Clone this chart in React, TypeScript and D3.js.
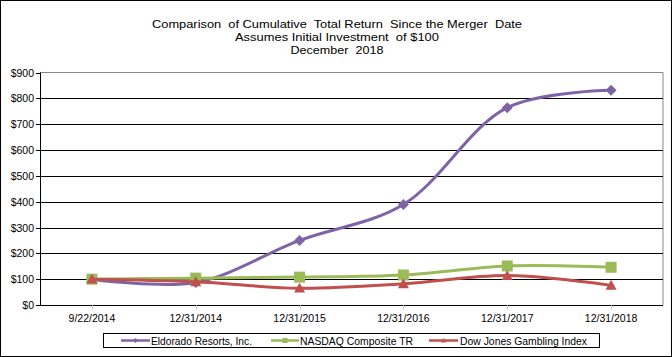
import React from "react";
import * as d3 from "d3";

const categories = ["9/22/2014", "12/31/2014", "12/31/2015", "12/31/2016", "12/31/2017", "12/31/2018"];
const eldorado = [100, 87, 250, 389, 764, 831];
const nasdaq = [100, 104, 108, 116, 151, 146];
const dowJones = [100, 90, 65, 82, 114, 76];
const yTicks = [0, 100, 200, 300, 400, 500, 600, 700, 800, 900];
const titleLines = [
  "Comparison  of Cumulative  Total Return  Since the Merger  Date",
  "Assumes Initial Investment  of $100",
  "December  2018",
];
const seriesNames = ["Eldorado Resorts, Inc.", "NASDAQ Composite TR", "Dow Jones Gambling Index"];

const W = 672, H = 357;
const left = 40, right = 663, top = 72.5, bottom = 305;
const FONT = "'Liberation Sans', Arial, sans-serif";

export default function App() {
  const x = d3.scaleBand<string>().domain(categories).range([left, right]);
  const y = d3.scaleLinear().domain([0, 900]).range([bottom, top]);
  const cx = (c: string) => (x(c) as number) + x.bandwidth() / 2;
  const line = d3.line<number>()
    .x((_, i) => cx(categories[i]))
    .y((d) => y(d))
    .curve(d3.curveCatmullRom.alpha(0.5));

  const series = [
    { name: seriesNames[0], data: eldorado, color: "#7E64A6", marker: "diamond" },
    { name: seriesNames[1], data: nasdaq, color: "#9BBB59", marker: "square" },
    { name: seriesNames[2], data: dowJones, color: "#C0504D", marker: "triangle" },
  ];

  const marker = (type: string, px: number, py: number, color: string, key: any, s = 5.5) => {
    if (type === "diamond") {
      return <path key={key} d={`M${px},${py - s}L${px + s},${py}L${px},${py + s}L${px - s},${py}Z`} fill={color} />;
    }
    if (type === "square") {
      return <rect key={key} x={px - s} y={py - s} width={2 * s} height={2 * s} fill={color} />;
    }
    return <path key={key} d={`M${px},${py - s}L${px + s},${py + s * 0.8}L${px - s},${py + s * 0.8}Z`} fill={color} />;
  };

  const titleWidths = [370, 204, 93];
  const legendItems = [
    { x0: 121, x1: 150, tx: 151, tw: 101 },
    { x0: 271, x1: 299, tx: 300, tw: 113 },
    { x0: 429, x1: 458, tx: 460, tw: 127 },
  ];

  return (
    <svg width={W} height={H} style={{ position: "absolute", left: 0, top: 0, background: "#fff" }}>
      <rect x={0.5} y={0.5} width={W - 1} height={H - 1} fill="#fff" stroke="#000" strokeWidth={1} />
      {titleLines.map((t, i) => (
        <text key={i} x={337} y={28 + i * 13} textAnchor="middle" fontFamily={FONT} fontSize={11.3}
          textLength={titleWidths[i]} lengthAdjust="spacingAndGlyphs" fill="#000" style={{ whiteSpace: "pre" }}>{t}</text>
      ))}
      <path d={`M${left},${top}H${right}V${bottom}`} fill="none" stroke="#888" strokeWidth={1} />
      {yTicks.filter((v) => v > 0 && v < 900).map((v) => (
        <line key={v} x1={left} x2={right} y1={Math.round(y(v)) + 0.5} y2={Math.round(y(v)) + 0.5} stroke="#000" strokeWidth={1} />
      ))}
      <line x1={left + 0.5} x2={left + 0.5} y1={top} y2={bottom} stroke="#000" />
      <line x1={left} x2={right} y1={bottom + 0.5} y2={bottom + 0.5} stroke="#000" />
      {yTicks.map((v) => (
        <g key={v}>
          <line x1={left - 4} x2={left} y1={Math.round(y(v)) + 0.5} y2={Math.round(y(v)) + 0.5} stroke="#000" />
          <text x={34} y={y(v) + 4} textAnchor="end" fontFamily={FONT} fontSize={10.5} fill="#000">{`$${v}`}</text>
        </g>
      ))}
      {categories.map((c) => (
        <g key={c}>
          <line x1={Math.round(cx(c)) + 0.5} x2={Math.round(cx(c)) + 0.5} y1={bottom} y2={bottom + 4} stroke="#bbb" />
          <text x={cx(c)} y={322} textAnchor="middle" fontFamily={FONT} fontSize={10.5} fill="#000">{c}</text>
        </g>
      ))}
      {series.map((s) => (
        <g key={s.name}>
          <path d={line(s.data) || ""} fill="none" stroke={s.color} strokeWidth={3} strokeLinejoin="round" strokeLinecap="round" />
          {s.data.map((v, i) => marker(s.marker, cx(categories[i]), y(v), s.color, i))}
        </g>
      ))}
      <rect x={103.5} y={333.5} width={496} height={14} fill="#fff" stroke="#000" />
      {series.map((s, i) => {
        const it = legendItems[i];
        const my = 340.5;
        return (
          <g key={s.name}>
            <line x1={it.x0} x2={it.x1} y1={my} y2={my} stroke={s.color} strokeWidth={2.5} />
            {marker(s.marker, (it.x0 + it.x1) / 2, my, s.color, "m", 2.5)}
            <text x={it.tx} y={344.5} fontFamily={FONT} fontSize={10.5} textLength={it.tw}
              lengthAdjust="spacingAndGlyphs" fill="#000">{s.name}</text>
          </g>
        );
      })}
    </svg>
  );
}
